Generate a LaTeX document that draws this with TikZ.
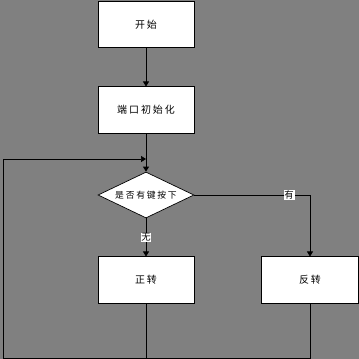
\documentclass[tikz,border=0pt]{standalone}
\usepackage{fontspec}
\usepackage{xcolor}
\usepackage{tikz}
\usetikzlibrary{arrows.meta,positioning,calc,shapes.geometric}
\newfontfamily\cjk[LetterSpace=20]{Noto Sans CJK SC}
\definecolor{PanelGray}{HTML}{808080}

\begin{document}
\begin{tikzpicture}[x=0.03cm,y=-0.03cm,
  block/.style={rectangle,draw=black,fill=white,line width=0.6pt,minimum width=2.88cm,minimum height=1.39cm,font=\cjk\fontsize{8.5}{10}\selectfont},
  choice/.style={diamond,draw=black,fill=white,line width=0.6pt,aspect=2.1,inner sep=0pt,minimum width=2.88cm,minimum height=1.38cm,font=\cjk\fontsize{7.5}{9}\selectfont},
  tag/.style={fill=white,inner sep=0.6pt,font=\cjk\fontsize{8}{9}\selectfont},
  edge/.style={-{Triangle[length=1.5mm,width=1.8mm]},line width=0.6pt,black}
]
\fill[PanelGray] (0,0) rectangle (359,359);
\useasboundingbox (0,0) rectangle (359,359);
\node[block] (start) at (146,24.5) {开始};
\node[block] (init) at (146,110) {端口初始化};
\node[choice] (judge) at (146,195) {是否有键按下};
\node[block] (fwd) at (146,280) {正转};
\node[block,minimum width=2.91cm] (rev) at (310,280) {反转};
\coordinate (bl) at (3,358);
\coordinate (join) at (146,159);
\draw[edge] (start) -- (init);
\draw[edge] (init) -- (judge);
\draw[edge] (judge) -- node[tag] {无} (fwd);
\draw[edge] (judge.east) -| node[tag,pos=0.41] {有} (rev);
\draw[line width=0.6pt] (fwd) -- (fwd |- bl);
\draw[edge] (rev) |- (bl) |- (join);
\end{tikzpicture}
\end{document}
